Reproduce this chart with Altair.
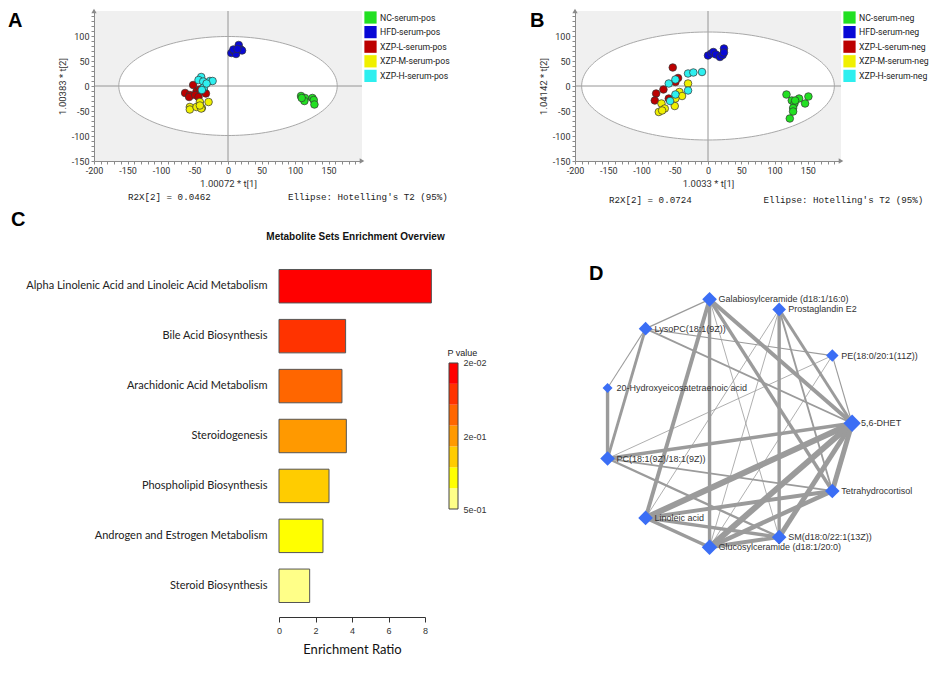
import altair as alt
import pandas as pd

FONT = "Liberation Sans"
UI_FONT = "Roboto"
MONO = "Liberation Mono"
NBSP = "\u00a0"

# ---------------- Panel A : score plot, positive mode ----------------
A_GROUPS = ["NC-serum-pos", "HFD-serum-pos", "XZP-L-serum-pos", "XZP-M-serum-pos", "XZP-H-serum-pos"]
A_NC_X = [109, 113, 115, 114, 126, 128, 129, 110]
A_NC_Y = [-20, -26, -24, -30, -24, -28, -37, -24]
A_HFD_X = [5, 9, 12, 16, 19, 21, 8, 14]
A_HFD_Y = [66, 70, 64, 82, 73, 71, 73, 74]
A_L_X = [-64, -57, -58, -52, -47, -42, -36, -33, -49, -44]
A_L_Y = [-14, -18, -22, 2, -11, -7, -10, -15, -18, -22]
A_M_X = [-57, -57, -47, -42, -39, -40, -29, -42]
A_M_Y = [-42, -47, -42, -32, -44, -45, -32, -39]
A_H_X = [-40, -44, -37, -27, -23, -36, -39, -32]
A_H_Y = [18, 12, 9, 10, 10, -3, -8, 5]
A_ELLIPSE = [163, 99]
A_XTITLE = "1.00072 * t[1]"
A_YTITLE = "1.00383 * t[2]"
A_R2X = "R2X[2] = 0.0462"

# ---------------- Panel B : score plot, negative mode ----------------
B_GROUPS = ["NC-serum-neg", "HFD-serum-neg", "XZP-L-serum-neg", "XZP-M-serum-neg", "XZP-H-serum-neg"]
B_NC_X = [118, 126, 130, 128, 128, 137, 146, 151, 123, 131]
B_NC_Y = [-17, -29, -35, -44, -51, -25, -35, -21, -65, -29]
B_HFD_X = [0, 5, 8, 12, 18, 22, 24, 24]
B_HFD_Y = [61, 65, 68, 63, 58, 62, 75, 67]
B_L_X = [-53, -45, -49, -78, -67, -80, -59]
B_L_Y = [37, 16, 8, -15, -7, -29, -25]
B_M_X = [-74, -70, -65, -50, -43, -39, -30, -69, -49]
B_M_Y = [-52, -35, -45, -40, -12, -20, 5, -49, -25]
B_H_X = [-59, -49, -49, -57, -30, -22, -9, -30]
B_H_Y = [5, 13, -17, -30, 25, 27, 28, -9]
B_ELLIPSE = [190, 108]
B_XTITLE = "1.0033 * t[1]"
B_YTITLE = "1.04142 * t[2]"
B_R2X = "R2X[2] = 0.0724"

ELLIPSE_LABEL = "Ellipse: Hotelling's T2 (95%)"
GROUP_COLORS = ["#22E022", "#0808D6", "#BC0000", "#F0F000", "#2EEFEF"]

# ---------------- Panel C : enrichment overview ----------------
PATHWAYS = [
    "Alpha Linolenic Acid and Linoleic Acid Metabolism",
    "Bile Acid Biosynthesis",
    "Arachidonic Acid Metabolism",
    "Steroidogenesis",
    "Phospholipid Biosynthesis",
    "Androgen and Estrogen Metabolism",
    "Steroid Biosynthesis",
]
ENRICHMENT = [8.35, 3.65, 3.45, 3.69, 2.74, 2.41, 1.68]
P_VALUES = [0.02, 0.04, 0.08, 0.15, 0.25, 0.35, 0.5]
P_BREAKS = [0.03, 0.06, 0.1, 0.2, 0.3, 0.45]
HEAT = ["#FF0000", "#FF3300", "#FF6600", "#FF9900", "#FFCC00", "#FFFF00", "#FFFF88"]
CB_CELLS = [0, 1, 2, 3, 4, 5, 6]
CB_LABELS = ["5e-01", "2e-01", "2e-02"]

# ---------------- Panel D : correlation network ----------------
NODES = [
    "5,6-DHET",
    "PE(18:0/20:1(11Z))",
    "Prostaglandin E2",
    "Galabiosylceramide (d18:1/16:0)",
    "LysoPC(18:1(9Z))",
    "20-Hydroxyeicosatetraenoic acid",
    "PC(18:1(9Z)/18:1(9Z))",
    "Linoleic acid",
    "Glucosylceramide (d18:1/20:0)",
    "SM(d18:0/22:1(13Z))",
    "Tetrahydrocortisol",
]
EDGE_SRC = [
    "Galabiosylceramide (d18:1/16:0)", "Galabiosylceramide (d18:1/16:0)", "Galabiosylceramide (d18:1/16:0)",
    "Galabiosylceramide (d18:1/16:0)", "Galabiosylceramide (d18:1/16:0)", "Galabiosylceramide (d18:1/16:0)",
    "Prostaglandin E2", "Prostaglandin E2", "Prostaglandin E2", "Prostaglandin E2", "Prostaglandin E2",
    "LysoPC(18:1(9Z))", "LysoPC(18:1(9Z))", "LysoPC(18:1(9Z))", "LysoPC(18:1(9Z))",
    "20-Hydroxyeicosatetraenoic acid",
    "PC(18:1(9Z)/18:1(9Z))", "PC(18:1(9Z)/18:1(9Z))", "PC(18:1(9Z)/18:1(9Z))", "PC(18:1(9Z)/18:1(9Z))",
    "PE(18:0/20:1(11Z))", "PE(18:0/20:1(11Z))",
    "5,6-DHET", "5,6-DHET", "5,6-DHET", "5,6-DHET",
    "Tetrahydrocortisol", "Tetrahydrocortisol",
    "Linoleic acid", "Linoleic acid",
    "Glucosylceramide (d18:1/20:0)",
]
EDGE_TGT = [
    "LysoPC(18:1(9Z))", "Linoleic acid", "Glucosylceramide (d18:1/20:0)",
    "5,6-DHET", "Tetrahydrocortisol", "SM(d18:0/22:1(13Z))",
    "SM(d18:0/22:1(13Z))", "5,6-DHET", "Tetrahydrocortisol", "Linoleic acid", "Glucosylceramide (d18:1/20:0)",
    "20-Hydroxyeicosatetraenoic acid", "PC(18:1(9Z)/18:1(9Z))", "5,6-DHET", "PE(18:0/20:1(11Z))",
    "PC(18:1(9Z)/18:1(9Z))",
    "PE(18:0/20:1(11Z))", "5,6-DHET", "Tetrahydrocortisol", "SM(d18:0/22:1(13Z))",
    "5,6-DHET", "Glucosylceramide (d18:1/20:0)",
    "Linoleic acid", "Glucosylceramide (d18:1/20:0)", "SM(d18:0/22:1(13Z))", "Tetrahydrocortisol",
    "Linoleic acid", "Glucosylceramide (d18:1/20:0)",
    "Glucosylceramide (d18:1/20:0)", "SM(d18:0/22:1(13Z))",
    "SM(d18:0/22:1(13Z))",
]
EDGE_WEIGHT = [
    1.5, 4, 3.5,
    4, 3.5, 1,
    3.5, 3, 2, 1, 1,
    1.2, 3, 2, 1.3,
    3.5,
    1, 3.5, 2, 2.5,
    1.3, 1,
    6, 6, 5, 5,
    4, 4.5,
    3.5, 3.5,
    4,
]

LETTER_STYLE = dict(align="left", baseline="top", fontSize=20, fontWeight="bold", font=FONT, color="#000000")


def panel_letter(txt, px, py):
    return alt.Chart(pd.DataFrame({"t": [txt]})).mark_text(**LETTER_STYLE).encode(
        text="t:N", x=alt.value(px), y=alt.value(py)
    )


def score_df(groups, xs, ys):
    rows = []
    for g, gx, gy in zip(groups, xs, ys):
        for x, y in zip(gx, gy):
            rows.append({"group": g, "x": x, "y": y})
    return pd.DataFrame(rows)


def score_panel(df, groups, ell, xtitle, ytitle, letter, letter_pos, cap_text, cap_y, width, height):
    xs = alt.Scale(domain=[-200, 200], nice=False, zero=False)
    ys = alt.Scale(domain=[-150, 150], nice=False, zero=False)
    common = dict(
        grid=False, tickSize=3, tickColor="#8a8a8a", domainColor="#8a8a8a",
        labelFont=UI_FONT, labelFontSize=9, labelColor="#333333", labelFlush=False,
        labelOverlap=False, labelPadding=2, titleFont=UI_FONT, titleFontSize=9.5,
        titleFontWeight="normal", titleColor="#333333",
    )
    xaxis = alt.Axis(
        values=list(range(-200, 200, 10)),
        labelExpr="datum.value % 50 == 0 ? toString(datum.value) : ''",
        title=xtitle, titlePadding=3, **common,
    )
    yaxis = alt.Axis(
        values=list(range(-150, 150, 10)),
        labelExpr="datum.value % 50 == 0 ? toString(datum.value) : ''",
        title=ytitle, titlePadding=4, **common,
    )
    a, b = ell
    fill = (
        alt.Chart(alt.sequence(0, 181, 2, as_="deg"))
        .transform_calculate(
            ex=f"{a}*cos(datum.deg*PI/180)",
            ey=f"{b}*sin(datum.deg*PI/180)",
            ey2=f"-{b}*sin(datum.deg*PI/180)",
        )
        .mark_area(color="#ffffff", opacity=1)
        .encode(
            x=alt.X("ex:Q", scale=xs, axis=xaxis),
            y=alt.Y("ey:Q", scale=ys, axis=yaxis),
            y2="ey2:Q",
        )
    )
    outline = (
        alt.Chart(alt.sequence(0, 362, 2, as_="deg"))
        .transform_calculate(
            ex=f"{a}*cos(datum.deg*PI/180)",
            ey=f"{b}*sin(datum.deg*PI/180)",
        )
        .mark_line(color="#a8a8a8", strokeWidth=1)
        .encode(
            x=alt.X("ex:Q", scale=xs, axis=xaxis),
            y=alt.Y("ey:Q", scale=ys, axis=yaxis),
            order="deg:Q",
        )
    )
    origin = pd.DataFrame({"v": [0]})
    vrule = alt.Chart(origin).mark_rule(color="#8a8a8a", strokeWidth=0.9).encode(
        x=alt.X("v:Q", scale=xs, axis=xaxis)
    )
    hrule = alt.Chart(origin).mark_rule(color="#8a8a8a", strokeWidth=0.9).encode(
        y=alt.Y("v:Q", scale=ys, axis=yaxis)
    )
    pts = alt.Chart(df).mark_circle(size=58, opacity=1, stroke="#333333", strokeWidth=0.7).encode(
        x=alt.X("x:Q", scale=xs, axis=xaxis),
        y=alt.Y("y:Q", scale=ys, axis=yaxis),
        color=alt.Color(
            "group:N",
            scale=alt.Scale(domain=groups, range=GROUP_COLORS),
            legend=alt.Legend(
                title=None, orient="right", symbolType="square", symbolSize=150,
                symbolStrokeWidth=0, symbolOpacity=1, labelFont=UI_FONT, labelFontSize=8.7,
                labelColor="#222222", offset=2, padding=0, rowPadding=1.6, labelOffset=3,
            ),
        ),
    )
    xarrow = alt.Chart(pd.DataFrame({"ax": [200], "ay": [-150]})).mark_point(
        shape="triangle-right", filled=True, size=28, color="#8a8a8a", opacity=1
    ).encode(x=alt.X("ax:Q", scale=xs, axis=xaxis), y=alt.Y("ay:Q", scale=ys, axis=yaxis))
    yarrow = alt.Chart(pd.DataFrame({"ax": [-200], "ay": [150]})).mark_point(
        shape="triangle-up", filled=True, size=28, color="#8a8a8a", opacity=1
    ).encode(x=alt.X("ax:Q", scale=xs, axis=xaxis), y=alt.Y("ay:Q", scale=ys, axis=yaxis))
    cap = alt.Chart(pd.DataFrame({"t": [cap_text]})).mark_text(
        align="left", baseline="middle", font=MONO, fontSize=9.2, color="#222222"
    ).encode(text="t:N", x=alt.value(34), y=alt.value(cap_y))
    let = panel_letter(letter, *letter_pos)
    return alt.layer(fill, vrule, hrule, outline, pts, xarrow, yarrow, cap, let).properties(
        width=width, height=height,
        view=alt.ViewBackground(fill="#F0F0F0", strokeWidth=0),
    )


dfA = score_df(A_GROUPS, [A_NC_X, A_HFD_X, A_L_X, A_M_X, A_H_X], [A_NC_Y, A_HFD_Y, A_L_Y, A_M_Y, A_H_Y])
dfB = score_df(B_GROUPS, [B_NC_X, B_HFD_X, B_L_X, B_M_X, B_H_X], [B_NC_Y, B_HFD_Y, B_L_Y, B_M_Y, B_H_Y])

panelA = score_panel(dfA, A_GROUPS, A_ELLIPSE, A_XTITLE, A_YTITLE, "A", (-86, 0),
                     A_R2X + NBSP * 14 + ELLIPSE_LABEL, 186, 268, 150)
panelB = score_panel(dfB, B_GROUPS, B_ELLIPSE, B_XTITLE, B_YTITLE, "B", (-45, 0),
                     B_R2X + NBSP * 13 + ELLIPSE_LABEL, 189, 266, 150)

# ---------------- C ----------------
# the bar plot area starts under panel A's plot; its x scale occupies the right part of it
BAR_X0 = 185
BAR_PX_PER_UNIT = 18.25
dfC = pd.DataFrame({"pathway": PATHWAYS, "ratio": ENRICHMENT, "pval": P_VALUES})
C_TITLE_STYLE = dict(font=FONT, fontSize=10, fontWeight="bold", anchor="middle", offset=19,
                     color="#111111", dx=96)
bars = alt.Chart(dfC).mark_bar(stroke="#555555", strokeWidth=1).encode(
    x=alt.X(
        "ratio:Q",
        scale=alt.Scale(domain=[0, 8], nice=False, range=[BAR_X0, BAR_X0 + 8 * BAR_PX_PER_UNIT]),
        axis=alt.Axis(
            values=[0, 2, 4, 6, 8], grid=False, offset=6, tickSize=5, tickColor="#333333",
            domainColor="#333333", labelFont=FONT, labelFontSize=9, labelColor="#333333",
            labelPadding=4, labelFlush=False, title="Enrichment Ratio", titleFont="Lato",
            titleFontSize=13, titleFontWeight="normal", titleColor="#111111", titlePadding=8,
        ),
    ),
    y=alt.Y(
        "pathway:N", sort=PATHWAYS,
        scale=alt.Scale(paddingInner=0.33, paddingOuter=0.17),
        axis=alt.Axis(
            title=None, domain=False, ticks=False, labelPadding=12, labelFont="Lato",
            labelFontSize=11, labelColor="#222222", labelLimit=400, offset=-BAR_X0,
        ),
    ),
    color=alt.Color("pval:Q", scale=alt.Scale(type="threshold", domain=P_BREAKS, range=HEAT), legend=None),
).properties(
    width=BAR_X0 + 8 * BAR_PX_PER_UNIT, height=350,
    title=alt.TitleParams("Metabolite Sets Enrichment Overview", **C_TITLE_STYLE),
    view=alt.ViewBackground(strokeWidth=0),
)

dfCB = pd.DataFrame({"col": ["c"] * len(CB_CELLS), "lo": CB_CELLS, "hi": [c + 1 for c in CB_CELLS]})
cb_y = alt.Scale(domain=[-4.89, 11.89], nice=False, zero=False)
cb_axis = alt.Axis(
    orient="right", values=[0, 3.5, 7],
    labelExpr=f"datum.value == 0 ? '{CB_LABELS[0]}' : datum.value == 7 ? '{CB_LABELS[2]}' : '{CB_LABELS[1]}'",
    domain=False, ticks=False, grid=False, labelFont=FONT, labelFontSize=9, labelColor="#333333",
    labelPadding=5, labelBaseline="middle", title="P value", titleAngle=0, titleAlign="left",
    titleBaseline="bottom", titleX=-11, titleY=96, titleFont=FONT, titleFontSize=9,
    titleFontWeight="normal", titleColor="#222222",
)
cb_cells = alt.Chart(dfCB).mark_rect().encode(
    x=alt.X("col:N", axis=None),
    y=alt.Y("lo:Q", scale=cb_y, axis=cb_axis),
    y2="hi:Q",
    color=alt.Color("lo:O", scale=alt.Scale(domain=CB_CELLS, range=HEAT[::-1]), legend=None),
)
cb_frame = alt.Chart(dfCB).mark_rect(fillOpacity=0, stroke="#444444", strokeWidth=1).encode(
    x=alt.X("col:N", axis=None),
    y=alt.Y("min(lo):Q", scale=cb_y, axis=cb_axis),
    y2="max(hi):Q",
)
colorbar = alt.layer(cb_cells, cb_frame).properties(
    width=9, height=350,
    view=alt.ViewBackground(strokeWidth=0),
)

panelC = alt.hconcat(bars, colorbar, spacing=2).properties(
    title=alt.TitleParams("C", anchor="start", frame="bounds", orient="top", fontSize=20,
                          fontWeight="bold", font=FONT, color="#000000", offset=2, dx=-14)
).resolve_scale(color="independent")

# ---------------- D ----------------
n_nodes = len(NODES)
degree = {n: 0 for n in NODES}
for s, t in zip(EDGE_SRC, EDGE_TGT):
    degree[s] += 1
    degree[t] += 1
dfN = pd.DataFrame({"name": NODES, "k": list(range(n_nodes)), "degree": [degree[n] for n in NODES]})
dfE = pd.DataFrame({
    "src": EDGE_SRC, "tgt": EDGE_TGT, "w": EDGE_WEIGHT,
    "sk": [NODES.index(s) for s in EDGE_SRC], "tk": [NODES.index(t) for t in EDGE_TGT],
})
D_YMAX = 1.296
dxs = alt.Scale(domain=[-0.98, 1.6], nice=False, zero=False)
dys = alt.Scale(domain=[-1.1, D_YMAX], nice=False, zero=False)
circ = f"2*PI/{n_nodes}"
edges = (
    alt.Chart(dfE)
    .transform_calculate(
        x1=f"cos({circ}*datum.sk)", y1=f"sin({circ}*datum.sk)",
        x2=f"cos({circ}*datum.tk)", y2=f"sin({circ}*datum.tk)",
    )
    .mark_rule(color="#9b9b9b")
    .encode(
        x=alt.X("x1:Q", scale=dxs, axis=None),
        y=alt.Y("y1:Q", scale=dys, axis=None),
        x2="x2:Q", y2="y2:Q",
        strokeWidth=alt.StrokeWidth("w:Q", scale=alt.Scale(domain=[1, 6], range=[0.8, 6]), legend=None),
    )
)
node_base = alt.Chart(dfN).transform_calculate(
    nx=f"cos({circ}*datum.k)", ny=f"sin({circ}*datum.k)"
)
nodes = node_base.mark_point(shape="diamond", filled=True, opacity=1, color="#3B6EF5").encode(
    x=alt.X("nx:Q", scale=dxs, axis=None),
    y=alt.Y("ny:Q", scale=dys, axis=None),
    size=alt.Size("degree:Q", scale=alt.Scale(domain=[2, 9], range=[100, 300]), legend=None),
)
labels = node_base.mark_text(align="left", baseline="middle", dx=9, font=FONT, fontSize=9, color="#333333").encode(
    x=alt.X("nx:Q", scale=dxs, axis=None),
    y=alt.Y("ny:Q", scale=dys, axis=None),
    text="name:N",
)
panelD = alt.layer(edges, nodes, labels, panel_letter("D", -16, 3)).properties(
    width=322, height=round((D_YMAX + 1.1) * 125),
    view=alt.ViewBackground(strokeWidth=0),
)

top = (
    alt.hconcat(panelA, panelB, spacing=80)
    .resolve_scale(color="independent")
    .resolve_legend(color="independent")
)
bottom = (
    alt.hconcat(panelC, panelD, spacing=102)
    .resolve_scale(color="independent", size="independent", strokeWidth="independent")
)
chart = (
    alt.vconcat(top, bottom, spacing=4)
    .resolve_scale(color="independent", size="independent", strokeWidth="independent")
    .resolve_legend(color="independent")
    .properties(padding=0, background="white")
    .configure(font=FONT)
    .configure_view(strokeWidth=0)
)
chart.save("out.html", embed_options={"renderer": "svg", "actions": False})
